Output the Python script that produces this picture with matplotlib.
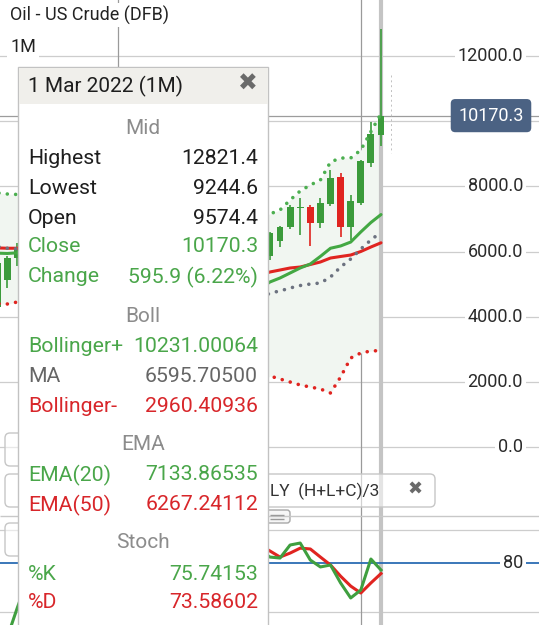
import numpy as np
import matplotlib.pyplot as plt
from matplotlib.patches import Rectangle, FancyBboxPatch

plt.rcParams['font.family'] = ['Roboto', 'DejaVu Sans']

# monthly candles, Jan 2019 .. Mar 2022
months = ['Jan 2019', 'Feb 2019', 'Mar 2019', 'Apr 2019', 'May 2019', 'Jun 2019', 'Jul 2019', 'Aug 2019',
          'Sep 2019', 'Oct 2019', 'Nov 2019', 'Dec 2019', 'Jan 2020', 'Feb 2020', 'Mar 2020', 'Apr 2020',
          'May 2020', 'Jun 2020', 'Jul 2020', 'Aug 2020', 'Sep 2020', 'Oct 2020', 'Nov 2020', 'Dec 2020',
          'Jan 2021', 'Feb 2021', 'Mar 2021', 'Apr 2021', 'May 2021', 'Jun 2021', 'Jul 2021', 'Aug 2021',
          'Sep 2021', 'Oct 2021', 'Nov 2021', 'Dec 2021', 'Jan 2022', 'Feb 2022', 'Mar 2022']
opens = [4300, 5125, 5800, 6100, 6390, 5350, 5850, 5820, 5510, 5410, 5420, 5520, 6110, 5160, 4480, 2050,
         1880, 3530, 3930, 4030, 4260, 4020, 3550, 4530, 4850, 5220, 6150, 5850, 6320, 6750, 7330, 7370,
         6880, 7460, 8290, 6750, 7490, 8720, 9574.4]
highs = [5680, 5850, 6250, 6640, 6650, 6000, 6090, 5850, 6300, 5680, 5860, 6190, 6510, 5440, 4850, 2900,
         3570, 4100, 4230, 4370, 4350, 4230, 4620, 4930, 5420, 6380, 6700, 6600, 6780, 7430, 7640, 7420,
         7640, 8500, 8410, 7730, 8800, 9970, 12821.4]
lows = [4250, 4880, 5550, 6070, 5300, 5060, 5470, 5050, 5380, 5090, 5400, 5500, 5120, 4440, 1990, 1000,
        1780, 3450, 3850, 3970, 3600, 3470, 3390, 4400, 4720, 5140, 5700, 5750, 6140, 6700, 6510, 6170,
        6720, 7400, 6450, 6350, 7420, 8590, 9244.6]
closes = [5650, 5800, 6100, 6390, 5350, 5850, 5820, 5510, 5410, 5420, 5520, 6110, 5160, 4480, 2050, 1880,
          3530, 3930, 4030, 4260, 4020, 3550, 4530, 4850, 5220, 6150, 5920, 6560, 6750, 7370, 7370, 6880,
          7490, 8260, 6750, 7550, 8780, 9610, 10170.3]

ema20 = [5950, 5940, 5960, 6000, 5940, 5930, 5920, 5880, 5840, 5800, 5780, 5810, 5750, 5630, 5290, 4970,
         4830, 4750, 4680, 4640, 4580, 4490, 4490, 4520, 4590, 4740, 4850, 5064, 5187, 5340, 5494, 5616,
         5850, 6100, 6170, 6290, 6600, 6890, 7133.86535]
ema50 = [6110, 6100, 6100, 6110, 6080, 6070, 6060, 6040, 6010, 5990, 5970, 5970, 5940, 5880, 5730, 5580,
         5500, 5440, 5390, 5340, 5290, 5230, 5200, 5190, 5190, 5230, 5260, 5371, 5432, 5494, 5524, 5601,
         5678, 5800, 5847, 5892, 6000, 6138, 6267.24112]
boll_ma = [6150, 6100, 6080, 6050, 6020, 6000, 5980, 5950, 5880, 5800, 5720, 5680, 5650, 5600, 5450, 5170,
           4980, 4880, 4780, 4700, 4600, 4480, 4380, 4330, 4300, 4380, 4520, 4726, 4788, 4880, 4956, 5002,
           5033, 5217, 5524, 5770, 6077, 6353, 6595.70500]
boll_up = [7800, 7765, 7750, 7700, 7650, 7600, 7550, 7500, 7350, 7200, 7000, 6900, 6850, 6900, 7400, 8200,
           8300, 8250, 8150, 8050, 7900, 7700, 7450, 7300, 7200, 7100, 7100, 7151, 7274, 7580, 7857, 8041,
           8194, 8747, 8869, 8869, 9115, 9680, 10231.00064]
boll_dn = [4400, 4389, 4450, 4400, 4390, 4400, 4410, 4400, 4410, 4400, 4440, 4460, 4450, 4300, 3500, 2140,
           1660, 1510, 1410, 1350, 1300, 1260, 1310, 1360, 1400, 1660, 1940, 2179, 2087, 1995, 1903, 1841,
           1780, 1657, 2148, 2731, 2885, 2946, 2960.40936]
stoch_k = [20, 35, 53, 70, 55, 50, 55, 45, 40, 38, 45, 65, 50, 30, 10, 8, 30, 50, 65, 78, 70, 55, 80, 88,
           90, 95, 88, 83.6, 83, 90.9, 92.1, 81.8, 77.6, 78.8, 67.9, 58.8, 63.6, 82.4, 75.74153]
stoch_d = [25, 30, 36, 53, 59, 58, 53, 50, 47, 41, 41, 49, 53, 48, 30, 16, 16, 29, 48, 64, 71, 68, 68, 74,
           86, 91, 91, 87.3, 83.6, 86, 89, 88.5, 83.6, 78.8, 72, 66, 61.8, 67.9, 73.58602]

price_ticks = [0, 2000, 4000, 6000, 8000, 10000, 12000]
vgrid_at = [12, 36]   # Jan 2020, Jan 2022

GREEN = '#3b9b3b'
RED = '#e02420'
TXT_GREEN = '#4aa64a'
TXT_RED = '#d8262a'
GRID = '#cdcdcd'
VGRID = '#9a9a9a'

idx = np.arange(len(months))
o, h, l, c = map(np.array, (opens, highs, lows, closes))
up = c >= o
cols = np.where(up, GREEN, RED)

fig = plt.figure(figsize=(5.39, 6.25), dpi=100)
xlim = (0.277, 53.644)

# price pane
ax = fig.add_axes([0, 1 - 515 / 625, 1, 515 / 625])
ax.set_xlim(xlim)
ax.set_ylim(-2087, 13719)
ax.axis('off')
for v in price_ticks:
    ax.axhline(v, color=GRID, lw=0.9, zorder=0)
for m in vgrid_at:
    ax.axvline(m, color=VGRID, lw=0.9, zorder=0)
ax.axvline(idx[-1], color='#c4c4c4', lw=3, zorder=0.5)
ax.axhline(c[-1], color='#9c9c9c', lw=0.9, zorder=0.6)

ax.fill_between(idx, boll_dn, boll_up, color='#f1f6f1', zorder=0.2, lw=0)
ax.vlines(idx, l, h, colors=cols, lw=1.2, zorder=2)
ax.bar(idx, c - o, bottom=o, width=0.69, color=cols, zorder=3, linewidth=0)
ax.plot(idx, ema50, color=RED, lw=2.2, zorder=4, solid_capstyle='round')
ax.plot(idx, ema20, color='#43a843', lw=2.2, zorder=4, solid_capstyle='round')
dot = dict(lw=2.6, linestyle=(0, (0.01, 2.3)), dash_capstyle='round', zorder=4)
ax.plot(idx, boll_ma, color='#6c7280', **dot)
ax.plot(idx, boll_up, color='#4caf50', **dot)
ax.plot(idx, boll_dn, color=RED, **dot)

ytr = ax.get_yaxis_transform()
for v in price_ticks:
    if v == 10000:
        continue  # covered by the price badge
    ax.text(523 / 539, v, f'{v:.1f}', transform=ytr, ha='right', va='center', fontsize=13,
            color='#2a2a2a', zorder=6, bbox=dict(fc='white', ec='none', pad=2))
ax.text(491 / 539, c[-1], f'{c[-1]:.1f}', transform=ytr, ha='center', va='center', fontsize=13,
        color='white', zorder=7,
        bbox=dict(boxstyle='round,pad=0.42,rounding_size=0.25', fc='#4b6283', ec='none'))

# stochastic pane
ax2 = fig.add_axes([0, 0, 1, 110 / 625])
ax2.set_xlim(xlim)
ax2.set_ylim(42.4, 109.1)
ax2.axis('off')
ax2.axhline(100, color=GRID, lw=0.9, zorder=0)
ax2.axhline(50, color=GRID, lw=0.9, zorder=0)
ax2.axhline(80, color='#2b6cb3', lw=1.3, zorder=1)
ax2.axvline(36, color=VGRID, lw=0.9, zorder=0)
ax2.axvline(idx[-1], color='#c4c4c4', lw=3, zorder=0.5)
ax2.plot(idx, stoch_d, color=RED, lw=2.2, zorder=3)
ax2.plot(idx, stoch_k, color='#3f9f3f', lw=2.2, zorder=3)
ax2.text(523 / 539, 80, '80', transform=ax2.get_yaxis_transform(), ha='right', va='center',
         fontsize=13, color='#2a2a2a', zorder=6, bbox=dict(fc='white', ec='none', pad=2))

# overlay for the app widgets, in pixels
ui = fig.add_axes([0, 0, 1, 1])
ui.set_xlim(0, 539)
ui.set_ylim(625, 0)
ui.axis('off')
ui.patch.set_alpha(0)

ui.text(10, 15, 'Oil - US Crude (DFB)', fontsize=13, color='#222222', va='center',
        bbox=dict(fc='white', ec='none', pad=1.5))
ui.text(10, 47, '1M', fontsize=13, color='#222222', va='center',
        bbox=dict(fc='white', ec='none', pad=2.5))
ui.vlines(391, 75, 153, colors='#c0c0c0', lw=0.7, linestyles=(0, (2, 3)))
ui.hlines(516, 0, 539, colors='#c8c8c8', lw=1)

for (y0, w) in ((433, 200), (474, 430), (523, 200)):
    ui.add_patch(FancyBboxPatch((5, y0), w, 33, boxstyle='round,pad=0,rounding_size=5',
                                fc=(1, 1, 1, 0.55), ec='#c6c6c6', lw=1))
ui.text(270, 491, 'LY  (H+L+C)/3', fontsize=12.5, color='#333333', va='center')
ui.text(415, 490, '✖', fontsize=13, color='#6a6a6a', va='center', ha='center')
ui.add_patch(FancyBboxPatch((240, 510), 50, 13, boxstyle='round,pad=0,rounding_size=3',
                            fc='#f6f6f6', ec='#a8a8a8', lw=1))
ui.hlines([514.5, 518.5], 270, 284, colors='#9a9a9a', lw=1)

# tooltip
ui.add_patch(Rectangle((18, 67), 250, 575, fc='white', ec='#c2c2c2', lw=1, zorder=10))
ui.add_patch(Rectangle((18.5, 67.5), 249, 36, fc='#f0efeb', ec='none', zorder=10))
ui.text(28, 86, f'1 {months[-1].split()[0]} {months[-1].split()[1]} (1M)', fontsize=15,
        color='#1e1e1e', va='center', zorder=11)
ui.text(248, 84, '✖', fontsize=17, color='#6a6a6a', va='center', ha='center', zorder=11)

chg = c[-1] - o[-1]
rows = [
    ('head', 128, 'Mid', None, None),
    ('row', 158, 'Highest', f'{h[-1]:.1f}', '#1e1e1e'),
    ('row', 188, 'Lowest', f'{l[-1]:.1f}', '#1e1e1e'),
    ('row', 218, 'Open', f'{o[-1]:.1f}', '#1e1e1e'),
    ('row', 247, 'Close', f'{c[-1]:.1f}', TXT_GREEN),
    ('row', 277, 'Change', f'{chg:.1f} ({chg / o[-1] * 100:.2f}%)', TXT_GREEN),
    ('head', 316, 'Boll', None, None),
    ('row', 346, 'Bollinger+', f'{boll_up[-1]:.5f}', TXT_GREEN),
    ('row', 376, 'MA', f'{boll_ma[-1]:.5f}', '#666666'),
    ('row', 406, 'Bollinger-', f'{boll_dn[-1]:.5f}', TXT_RED),
    ('head', 445, 'EMA', None, None),
    ('row', 475, 'EMA(20)', f'{ema20[-1]:.5f}', TXT_GREEN),
    ('row', 505, 'EMA(50)', f'{ema50[-1]:.5f}', TXT_RED),
    ('head', 543, 'Stoch', None, None),
    ('row', 574, '%K', f'{stoch_k[-1]:.5f}', TXT_GREEN),
    ('row', 603, '%D', f'{stoch_d[-1]:.5f}', TXT_RED),
]
for kind, y, label, val, col in rows:
    if kind == 'head':
        ui.text(143, y, label, fontsize=15, color='#8c8c8c', ha='center', va='center', zorder=11)
    else:
        ui.text(28, y, label, fontsize=15.3, color=col, va='center', zorder=11)
        ui.text(258, y, val, fontsize=15.3, color=col, ha='right', va='center', zorder=11)

fig.savefig('out.png', dpi=100)
